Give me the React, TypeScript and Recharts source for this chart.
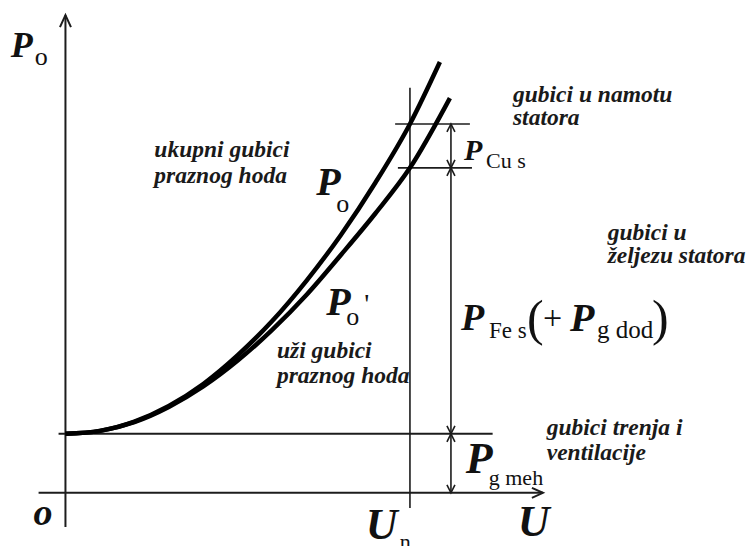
import React from 'react';
import { ComposedChart, Line, XAxis, YAxis, ReferenceLine, ReferenceDot } from 'recharts';

// no-load losses P0 against voltage U (U in units of Un, P in arbitrary units)
const uTotal = [0, 0.1, 0.2, 0.3, 0.4, 0.5, 0.6, 0.7, 0.8, 0.9, 1.0, 1.087];
const pTotal = [12.1, 12.7, 14.6, 17.8, 22.3, 28.2, 35.2, 43.5, 52.9, 63.6, 75.6, 88.3];

const uNarrow = [0, 0.1, 0.2, 0.3, 0.4, 0.5, 0.6, 0.7, 0.8, 0.9, 1.0, 1.116];
const pNarrow = [12.1, 12.7, 14.5, 17.6, 21.8, 27.1, 33.4, 40.6, 48.8, 57.3, 66.6, 80.9];

const uRated = 1;
const pMech = 12.1; // friction and ventilation
const pAtRated = 75.6; // P0 at Un
const pNarrowAtRated = 66.6; // P0' at Un
const uDim = 1.119; // where the dimension arrows stand

const totalData = uTotal.map((u, i) => ({ u, p: pTotal[i] }));
const narrowData = uNarrow.map((u, i) => ({ u, p: pNarrow[i] }));

const SERIF = '"Liberation Serif", "Times New Roman", serif';
const INK = '#1c1c1c';

// line with open V arrow heads
const lineShape = (start: boolean, end: boolean, width: number, len: number, spread: number) => (props: any) => {
  const { x1, y1, x2, y2 } = props;
  const a = Math.atan2(y2 - y1, x2 - x1);
  const head = (x: number, y: number, ang: number) => {
    const bx = x - len * Math.cos(ang);
    const by = y - len * Math.sin(ang);
    const ox = spread * -Math.sin(ang);
    const oy = spread * Math.cos(ang);
    return `M${bx + ox},${by + oy} L${x},${y} L${bx - ox},${by - oy}`;
  };
  return (
    <g>
      <line x1={x1} y1={y1} x2={x2} y2={y2} stroke={INK} strokeWidth={width} />
      {end && <path d={head(x2, y2, a)} fill="none" stroke={INK} strokeWidth={width} />}
      {start && <path d={head(x1, y1, a + Math.PI)} fill="none" stroke={INK} strokeWidth={width} />}
    </g>
  );
};

type Piece = { t: string; dx: number; dy: number; size: number; bold?: boolean; italic?: boolean };

const mathLabel = (pieces: Piece[]) => (props: any) => {
  const { cx, cy } = props;
  return (
    <text fontFamily={SERIF} fill="#111">
      {pieces.map((p, i) => (
        <tspan
          key={i}
          x={cx + p.dx}
          y={cy + p.dy}
          fontSize={p.size}
          fontWeight={p.bold ? 'bold' : 'normal'}
          fontStyle={p.italic ? 'italic' : 'normal'}
        >
          {p.t}
        </tspan>
      ))}
    </text>
  );
};

const noteLabel = (lines: string[], gap: number) => (props: any) => {
  const { cx, cy } = props;
  return (
    <text fontFamily={SERIF} fontSize={23.5} fontWeight="bold" fontStyle="italic" fill="#1a1a1a">
      {lines.map((l, i) => (
        <tspan key={i} x={cx} y={cy + i * gap}>
          {l}
        </tspan>
      ))}
    </text>
  );
};

const P = (size: number): Piece => ({ t: 'P', dx: 0, dy: 0, size, bold: true, italic: true });

export default function App() {
  return (
    <div style={{ position: 'absolute', left: 0, top: 0, background: '#fff' }}>
      <ComposedChart width={751} height={546} margin={{ top: 0, right: 0, bottom: 0, left: 0 }}>
        <XAxis type="number" dataKey="u" domain={[-0.19, 1.99]} hide allowDataOverflow />
        <YAxis type="number" dataKey="p" domain={[-10.9, 101]} hide allowDataOverflow />

        {/* axes */}
        <ReferenceLine segment={[{ x: 0, y: -7 }, { x: 0, y: 97.9 }]} shape={lineShape(false, true, 2, 12, 5.5)} />
        <ReferenceLine segment={[{ x: -0.078, y: 0 }, { x: 1.386, y: 0 }]} shape={lineShape(false, true, 2, 11, 5)} />

        {/* helper lines */}
        <ReferenceLine segment={[{ x: -0.02, y: pMech }, { x: 1.24, y: pMech }]} shape={lineShape(false, false, 1.8, 0, 0)} />
        <ReferenceLine segment={[{ x: uRated, y: -3.1 }, { x: uRated, y: 83 }]} shape={lineShape(false, false, 1.6, 0, 0)} />
        <ReferenceLine segment={[{ x: 0.957, y: pAtRated }, { x: 1.174, y: pAtRated }]} shape={lineShape(false, false, 1.6, 0, 0)} />
        <ReferenceLine segment={[{ x: 0.965, y: pNarrowAtRated }, { x: 1.18, y: pNarrowAtRated }]} shape={lineShape(false, false, 1.6, 0, 0)} />

        {/* dimension arrows */}
        <ReferenceLine segment={[{ x: uDim, y: pNarrowAtRated }, { x: uDim, y: pAtRated }]} shape={lineShape(true, true, 1.6, 8, 4)} />
        <ReferenceLine segment={[{ x: uDim, y: pMech }, { x: uDim, y: pNarrowAtRated }]} shape={lineShape(true, true, 1.6, 8, 4)} />
        <ReferenceLine segment={[{ x: uDim, y: 0 }, { x: uDim, y: pMech }]} shape={lineShape(true, true, 1.6, 8, 4)} />

        <Line data={totalData} dataKey="p" type="monotone" stroke="#000" strokeWidth={4.5} dot={false} activeDot={false} isAnimationActive={false} />
        <Line data={narrowData} dataKey="p" type="monotone" stroke="#000" strokeWidth={4.5} dot={false} activeDot={false} isAnimationActive={false} />

        {/* notes */}
        <ReferenceDot x={0.258} y={68.9} r={0} shape={noteLabel(['ukupni gubici', 'praznog hoda'], 26)} />
        <ReferenceDot x={0.614} y={27.7} r={0} shape={noteLabel(['uži gubici', 'praznog hoda'], 25)} />
        <ReferenceDot x={1.299} y={80.1} r={0} shape={noteLabel(['gubici u namotu', 'statora'], 23)} />
        <ReferenceDot x={1.574} y={51.8} r={0} shape={noteLabel(['gubici u', 'željezu statora'], 22.5)} />
        <ReferenceDot x={1.397} y={11.9} r={0} shape={noteLabel(['gubici trenja i', 'ventilacije'], 25)} />

        {/* symbols */}
        <ReferenceDot x={-0.159} y={89.3} r={0} shape={mathLabel([P(36), { t: 'o', dx: 24, dy: 8, size: 26 }])} />
        <ReferenceDot x={0.728} y={61.1} r={0} shape={mathLabel([P(40), { t: 'o', dx: 20, dy: 17, size: 26 }])} />
        <ReferenceDot
          x={0.757}
          y={36.5}
          r={0}
          shape={mathLabel([P(40), { t: 'o', dx: 20, dy: 10, size: 26 }, { t: "'", dx: 38, dy: -2, size: 28 }])}
        />
        <ReferenceDot x={1.157} y={68.2} r={0} shape={mathLabel([P(30), { t: 'Cu s', dx: 22, dy: 8, size: 22 }])} />
        <ReferenceDot
          x={1.148}
          y={33.4}
          r={0}
          shape={mathLabel([
            P(38),
            { t: 'Fe s', dx: 28, dy: 8, size: 23 },
            { t: '(', dx: 66, dy: 5, size: 50 },
            { t: '+', dx: 82, dy: -1, size: 34 },
            { t: 'P', dx: 109, dy: 1, size: 40, bold: true, italic: true },
            { t: 'g dod', dx: 136, dy: 8, size: 25 },
            { t: ')', dx: 191, dy: 5, size: 50 },
          ])}
        />
        <ReferenceDot x={1.162} y={4.1} r={0} shape={mathLabel([P(44), { t: 'g meh', dx: 23, dy: 12, size: 22 }])} />
        <ReferenceDot
          x={0.872}
          y={-9.4}
          r={0}
          shape={mathLabel([{ t: 'U', dx: 0, dy: 0, size: 44, bold: true, italic: true }, { t: 'n', dx: 34, dy: 10, size: 22 }])}
        />
        <ReferenceDot x={1.313} y={-8.8} r={0} shape={mathLabel([{ t: 'U', dx: 0, dy: 0, size: 44, bold: true, italic: true }])} />
        <ReferenceDot x={-0.093} y={-6.6} r={0} shape={mathLabel([{ t: 'o', dx: 0, dy: 0, size: 38, bold: true, italic: true }])} />
      </ComposedChart>
    </div>
  );
}
